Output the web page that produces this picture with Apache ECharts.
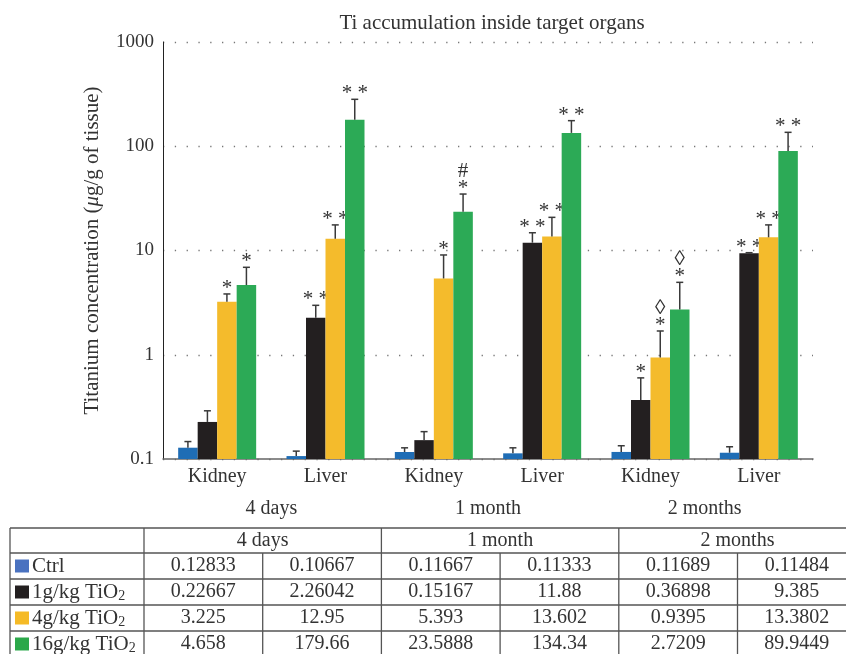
<!DOCTYPE html>
<html>
<head>
<meta charset="utf-8">
<script src="https://cdn.jsdelivr.net/npm/echarts@6/dist/echarts.min.js"></script>
<style>
  html, body { margin: 0; padding: 0; background: #fff; }
  #chart { width: 846px; height: 654px; }
</style>
</head>
<body>
<div id="chart"></div>
<script>
// Organ under each bar group, and the sampling time under each pair
const organs = ['Kidney', 'Liver', 'Kidney', 'Liver', 'Kidney', 'Liver'];
const periods = ['4 days', '1 month', '2 months'];
const yTicks = [0.1, 1, 10, 100, 1000];

// Mean Ti concentration (µg/g of tissue) per dose group
const groupNames = ['Ctrl', '1g/kg TiO', '4g/kg TiO', '16g/kg TiO'];
const groupSub = ['', '2', '2', '2'];
const ctrl  = [0.12833, 0.10667, 0.11667, 0.11333, 0.11689, 0.11484];
const tio1  = [0.22667, 2.26042, 0.15167, 11.88, 0.36898, 9.385];
const tio4  = [3.225, 12.95, 5.393, 13.602, 0.9395, 13.3802];
const tio16 = [4.658, 179.66, 23.5888, 134.34, 2.7209, 89.9449];

// Upper end of each error whisker
const ctrlErr  = [0.147, 0.119, 0.128, 0.128, 0.134, 0.131];
const tio1Err  = [0.29, 2.98, 0.183, 14.8, 0.60, 9.53];
const tio4Err  = [3.83, 17.6, 9.06, 20.8, 1.69, 17.6];
const tio16Err = [6.9, 282, 34.8, 176, 4.95, 136];

// Significance marks printed above the whiskers
const ctrlMarks  = ['', '', '', '', '', ''];
const tio1Marks  = ['', '* *', '', '* *', '*', '* *'];
const tio4Marks  = ['*', '* *', '*', '* *', '◊\n*', '* *'];
const tio16Marks = ['*', '* *', '#\n*', '* *', '◊\n*', '* *'];

const barColors = ['#1f6db5', '#231f20', '#f4bb2c', '#2caa56'];
const keyColors = ['#4a72c0', '#231f20', '#f5ba26', '#2ba84a'];
const SERIF = '"Liberation Serif", "DejaVu Serif", serif';
const Y_MIN = 0.1, Y_MAX = 1000;
const BAR_FRAC = 0.18;

const groups = [
  { values: ctrl,  err: ctrlErr,  marks: ctrlMarks },
  { values: tio1,  err: tio1Err,  marks: tio1Marks },
  { values: tio4,  err: tio4Err,  marks: tio4Marks },
  { values: tio16, err: tio16Err, marks: tio16Marks }
];

// Bars grow from the bottom of the log axis, with an upper whisker and marks
function makeRenderer(k, marks, fill) {
  return function (params, api) {
    const cat = api.value(0);
    const bw = api.size([1, 1])[0] * BAR_FRAC;
    const top = api.coord([cat, api.value(1)]);
    const base = api.coord([cat, Y_MIN]);
    const errPt = api.coord([cat, api.value(2)]);
    const left = top[0] + (k - 2) * bw;
    const cx = left + bw / 2;
    const children = [
      { type: 'rect', shape: { x: left, y: top[1], width: bw, height: base[1] - top[1] },
        style: { fill: fill } },
      { type: 'line', shape: { x1: cx, y1: top[1], x2: cx, y2: errPt[1] },
        style: { stroke: '#3a3a3a', lineWidth: 1.5 } },
      { type: 'line', shape: { x1: cx - 3.5, y1: errPt[1], x2: cx + 3.5, y2: errPt[1] },
        style: { stroke: '#3a3a3a', lineWidth: 1.5 } }
    ];
    const m = marks[params.dataIndex];
    if (m) {
      children.push({
        type: 'text', x: cx, y: errPt[1] + 3,
        style: { text: m, align: 'center', verticalAlign: 'bottom',
          font: '21px ' + SERIF, fill: '#333', lineHeight: 17 }
      });
    }
    return { type: 'group', children: children };
  };
}

const series = groups.map(function (g, k) {
  return {
    type: 'custom',
    name: groupNames[k],
    xAxisIndex: 0,
    yAxisIndex: 0,
    renderItem: makeRenderer(k, g.marks, barColors[k]),
    data: g.values.map(function (v, i) { return [i, v, g.err[i]]; }),
    z: 3
  };
});

// Data table under the chart
const T = {
  x0: 10, firstCol: 144, colW: 118.7,
  rowTops: [528, 553, 579, 605, 631, 657],
  line: '#555'
};
const graphic = [];
function hLine(x1, x2, y) {
  graphic.push({ type: 'line', shape: { x1: x1, y1: y, x2: x2, y2: y },
    style: { stroke: T.line, lineWidth: 1.3 } });
}
function vLine(x, y1, y2) {
  graphic.push({ type: 'line', shape: { x1: x, y1: y1, x2: x, y2: y2 },
    style: { stroke: T.line, lineWidth: 1.3 } });
}
function cellText(txt, cx, cy) {
  graphic.push({ type: 'text', x: cx, y: cy,
    style: { text: txt, align: 'center', verticalAlign: 'middle',
      font: '20px ' + SERIF, fill: '#333' } });
}
const tableRight = T.firstCol + T.colW * 6;
const yTop = T.rowTops[0], yBot = T.rowTops[T.rowTops.length - 1];
T.rowTops.forEach(function (y) { hLine(T.x0, tableRight, y); });
vLine(T.x0, yTop, yBot);
vLine(T.firstCol, yTop, yBot);
for (let p = 0; p < periods.length; p++) {
  const xl = T.firstCol + p * 2 * T.colW;
  vLine(xl + 2 * T.colW, yTop, yBot);
  vLine(xl + T.colW, T.rowTops[1], yBot);
  cellText(periods[p], xl + T.colW, (T.rowTops[0] + T.rowTops[1]) / 2);
}
groups.forEach(function (g, k) {
  const cy = (T.rowTops[k + 1] + T.rowTops[k + 2]) / 2;
  graphic.push({ type: 'rect', shape: { x: 15, y: cy - 6.5, width: 14, height: 13 },
    style: { fill: keyColors[k] } });
  graphic.push({ type: 'text', x: 32, y: cy,
    style: {
      text: '{t|' + groupNames[k] + '}' + (groupSub[k] ? '{s|' + groupSub[k] + '}' : ''),
      verticalAlign: 'middle', align: 'left',
      rich: {
        t: { font: '21px ' + SERIF, fill: '#333', lineHeight: 22 },
        s: { font: '14px ' + SERIF, fill: '#333', lineHeight: 14,
             verticalAlign: 'bottom', padding: [8, 0, 0, 0] }
      }
    } });
  g.values.forEach(function (v, i) {
    cellText(String(v), T.firstCol + T.colW * (i + 0.5), cy);
  });
});

const chart = echarts.init(document.getElementById('chart'), null, { renderer: 'canvas' });
chart.setOption({
  backgroundColor: '#fff',
  animation: false,
  title: {
    text: 'Ti accumulation inside target organs',
    left: 487, top: 8, textAlign: 'center',
    textStyle: { fontFamily: SERIF, fontSize: 21, fontWeight: 'normal', color: '#333' }
  },
  grid: { left: 163, right: 33, top: 42, bottom: 195, containLabel: false },
  xAxis: [
    {
      type: 'category', data: organs, position: 'bottom',
      axisLine: { lineStyle: { color: '#666', width: 1.5 } },
      axisTick: { show: false },
      axisLabel: { margin: 8, fontFamily: SERIF, fontSize: 20, color: '#333' }
    },
    {
      type: 'category', data: periods, position: 'bottom', offset: 32,
      axisLine: { show: false }, axisTick: { show: false },
      axisLabel: { margin: 8, fontFamily: SERIF, fontSize: 20, color: '#333' }
    }
  ],
  yAxis: {
    type: 'log', logBase: 10, min: Y_MIN, max: Y_MAX,
    name: '{n|Titanium concentration (}{i|μ}{n|g/g of tissue)}',
    nameLocation: 'middle', nameGap: 60,
    nameTextStyle: {
      rich: {
        n: { fontFamily: SERIF, fontSize: 21, color: '#333' },
        i: { fontFamily: SERIF, fontSize: 21, color: '#333', fontStyle: 'italic' }
      }
    },
    axisLine: { show: true, lineStyle: { color: '#222', width: 1 } },
    axisTick: { show: false },
    minorTick: { show: false },
    axisLabel: {
      margin: 9, fontFamily: SERIF, fontSize: 19, color: '#333',
      formatter: function (v) {
        const t = yTicks.find(function (x) { return Math.abs(Math.log10(x) - Math.log10(v)) < 1e-6; });
        return t === undefined ? '' : String(t);
      }
    },
    splitLine: { show: true, lineStyle: { color: '#777', width: 1.3, type: [1.3, 10.5] } }
  },
  series: series,
  graphic: graphic
});
</script>
</body>
</html>
